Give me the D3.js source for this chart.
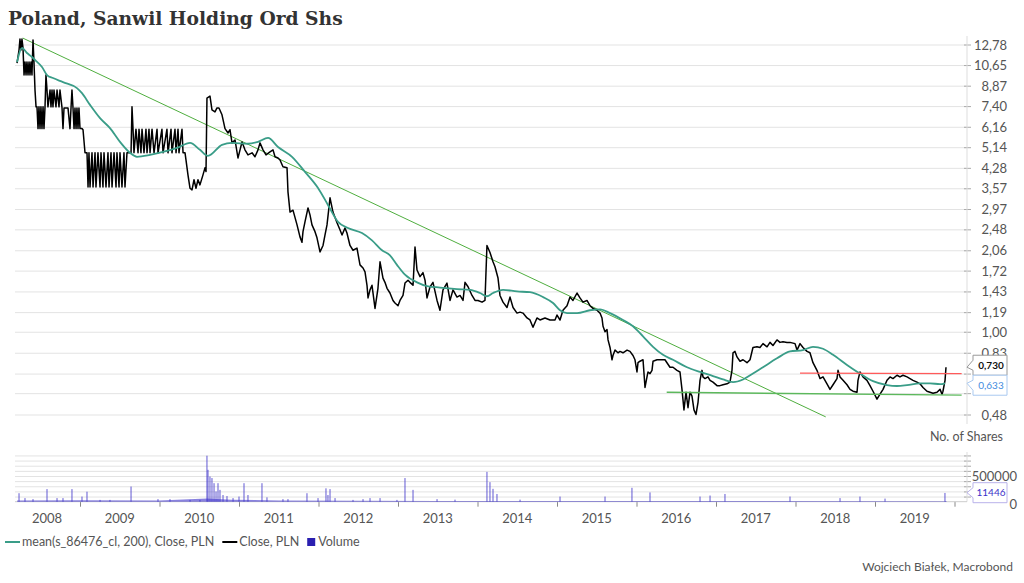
<!DOCTYPE html>
<html>
<head>
<meta charset="utf-8">
<script src="https://cdn.jsdelivr.net/npm/d3@7"></script>
<style>
  body { margin: 0; background: #fff; }
  text { font-family: Lato, "Open Sans", sans-serif; }
</style>
</head>
<body>
<script>
// ---- data ----
var years = [2008, 2009, 2010, 2011, 2012, 2013, 2014, 2015, 2016, 2017, 2018, 2019];
var priceTicks = [0.48, 0.58, 0.69, 0.83, 1.00, 1.19, 1.43, 1.72, 2.06, 2.48, 2.97, 3.57, 4.28, 5.14, 6.16, 7.40, 8.87, 10.65, 12.78];
var volumeGrid = [100000, 200000, 300000, 400000, 500000, 600000, 700000, 800000, 900000];
var volumeLabels = [0, 500000];

// [decimal year, close PLN]
var closeSeries = [
  [2008.208,10.84],[2008.233,12.17],[2008.245,13.42],[2008.258,12.17],[2008.270,13.42],[2008.283,12.40],
  [2008.296,9.75],[2008.308,10.95],[2008.321,9.75],[2008.333,10.95],[2008.346,9.75],[2008.359,10.95],
  [2008.371,9.75],[2008.384,10.95],[2008.396,9.75],[2008.409,13.30],[2008.421,10.95],[2008.434,8.53],
  [2008.447,7.35],[2008.459,7.35],[2008.472,6.06],[2008.484,7.35],[2008.497,6.06],[2008.509,7.35],
  [2008.522,6.06],[2008.535,7.35],[2008.547,6.06],[2008.560,7.35],[2008.572,9.75],[2008.585,8.53],
  [2008.597,7.35],[2008.623,8.53],[2008.635,7.35],[2008.648,8.53],[2008.660,7.35],[2008.673,8.53],
  [2008.698,7.35],[2008.711,8.53],[2008.736,7.35],[2008.748,8.53],[2008.774,7.28],[2008.786,6.06],
  [2008.799,7.28],[2008.824,7.28],[2008.849,7.28],[2008.874,6.06],[2008.887,7.28],[2008.899,8.53],
  [2008.912,7.28],[2008.925,6.06],[2008.937,7.28],[2008.950,6.06],[2008.962,7.28],[2008.975,6.06],
  [2008.987,7.28],[2009.000,6.06],[2009.025,6.06],[2009.038,6.00],[2009.063,4.89],[2009.088,4.89],
  [2009.101,3.61],[2009.113,4.89],[2009.126,3.61],[2009.151,4.89],[2009.164,3.61],[2009.189,4.89],
  [2009.201,3.61],[2009.226,4.89],[2009.252,3.61],[2009.264,4.89],[2009.289,3.61],[2009.302,4.89],
  [2009.327,3.61],[2009.352,4.89],[2009.365,3.61],[2009.390,4.89],[2009.403,3.61],[2009.428,4.89],
  [2009.453,3.61],[2009.465,4.89],[2009.491,3.61],[2009.503,4.89],[2009.528,3.61],[2009.553,4.89],
  [2009.566,3.61],[2009.591,4.89],[2009.604,4.89],[2009.642,4.89],[2009.654,7.35],[2009.667,6.03],
  [2009.679,4.89],[2009.704,6.03],[2009.730,4.89],[2009.742,6.03],[2009.767,4.89],[2009.780,6.03],
  [2009.805,4.89],[2009.830,6.03],[2009.843,4.89],[2009.868,6.03],[2009.881,4.89],[2009.906,6.03],
  [2009.931,4.89],[2009.969,6.03],[2009.981,4.89],[2010.031,6.03],[2010.044,4.89],[2010.094,6.03],
  [2010.107,4.89],[2010.145,6.03],[2010.157,4.89],[2010.195,6.03],[2010.208,4.89],[2010.233,6.03],
  [2010.245,4.89],[2010.283,6.03],[2010.296,4.89],[2010.321,4.89],[2010.333,4.59],[2010.358,4.02],
  [2010.384,3.57],[2010.409,3.52],[2010.434,3.85],[2010.459,3.57],[2010.484,3.85],[2010.509,3.68],
  [2010.547,4.02],[2010.572,4.28],[2010.585,4.14],[2010.597,7.95],[2010.635,8.09],[2010.660,7.16],
  [2010.698,7.03],[2010.723,7.28],[2010.748,7.28],[2010.786,6.85],[2010.824,6.06],[2010.862,5.83],
  [2010.887,6.00],[2010.912,5.34],[2010.950,5.48],[2010.987,4.67],[2011.013,5.02],[2011.038,5.38],
  [2011.075,5.02],[2011.113,4.80],[2011.164,4.89],[2011.201,4.72],[2011.239,5.02],[2011.264,5.34],
  [2011.302,5.02],[2011.340,4.80],[2011.390,4.93],[2011.428,5.02],[2011.453,4.72],[2011.491,4.67],
  [2011.516,4.59],[2011.553,4.32],[2011.604,4.28],[2011.616,3.46],[2011.642,2.89],[2011.679,2.94],
  [2011.730,2.58],[2011.767,2.32],[2011.792,2.21],[2011.805,2.43],[2011.830,2.65],[2011.868,3.00],
  [2011.893,2.82],[2011.918,2.58],[2011.956,2.43],[2011.981,2.30],[2012.019,2.03],[2012.057,2.15],
  [2012.082,2.36],[2012.107,2.58],[2012.145,3.28],[2012.182,2.89],[2012.233,2.63],[2012.270,2.47],
  [2012.296,2.36],[2012.333,2.51],[2012.358,2.40],[2012.396,2.15],[2012.434,2.06],[2012.484,2.10],
  [2012.522,1.81],[2012.560,1.76],[2012.585,1.70],[2012.610,1.51],[2012.623,1.35],[2012.648,1.45],
  [2012.673,1.51],[2012.711,1.23],[2012.748,1.47],[2012.774,1.86],[2012.811,1.61],[2012.836,1.55],
  [2012.862,1.47],[2012.899,1.41],[2012.937,1.32],[2012.962,1.29],[2013.000,1.26],[2013.025,1.32],
  [2013.063,1.38],[2013.088,1.54],[2013.126,1.58],[2013.151,1.55],[2013.189,1.51],[2013.214,2.12],
  [2013.239,1.73],[2013.277,1.63],[2013.314,1.69],[2013.340,1.58],[2013.365,1.35],[2013.403,1.49],
  [2013.440,1.55],[2013.491,1.32],[2013.528,1.21],[2013.566,1.45],[2013.616,1.54],[2013.654,1.32],
  [2013.692,1.45],[2013.742,1.36],[2013.780,1.38],[2013.818,1.32],[2013.843,1.55],[2013.881,1.49],
  [2013.931,1.38],[2013.969,1.32],[2014.006,1.32],[2014.057,1.30],[2014.094,1.32],[2014.119,2.15],
  [2014.157,2.02],[2014.195,1.86],[2014.220,1.78],[2014.258,1.61],[2014.283,1.38],[2014.321,1.30],
  [2014.371,1.24],[2014.409,1.36],[2014.447,1.24],[2014.497,1.18],[2014.535,1.19],[2014.572,1.18],
  [2014.623,1.13],[2014.660,1.11],[2014.698,1.04],[2014.748,1.13],[2014.786,1.11],[2014.849,1.13],
  [2014.912,1.11],[2014.975,1.11],[2015.000,1.16],[2015.038,1.11],[2015.075,1.21],[2015.126,1.26],
  [2015.164,1.36],[2015.201,1.32],[2015.252,1.41],[2015.289,1.35],[2015.327,1.30],[2015.377,1.32],
  [2015.415,1.26],[2015.453,1.23],[2015.503,1.21],[2015.541,1.18],[2015.566,1.13],[2015.579,1.05],
  [2015.604,1.00],[2015.629,1.02],[2015.642,0.93],[2015.667,0.87],[2015.692,0.78],[2015.704,0.81],
  [2015.730,0.85],[2015.767,0.83],[2015.792,0.84],[2015.830,0.83],[2015.881,0.85],[2015.918,0.84],
  [2015.956,0.81],[2015.981,0.78],[2016.006,0.70],[2016.019,0.76],[2016.044,0.77],[2016.082,0.78],
  [2016.107,0.61],[2016.132,0.67],[2016.145,0.70],[2016.170,0.69],[2016.195,0.71],[2016.208,0.77],
  [2016.258,0.78],[2016.296,0.78],[2016.358,0.78],[2016.421,0.73],[2016.459,0.73],[2016.509,0.71],
  [2016.547,0.70],[2016.572,0.60],[2016.597,0.50],[2016.623,0.585],[2016.648,0.51],[2016.673,0.585],
  [2016.698,0.565],[2016.723,0.50],[2016.748,0.48],[2016.774,0.535],[2016.799,0.65],[2016.824,0.71],
  [2016.836,0.67],[2016.862,0.66],[2016.899,0.67],[2016.925,0.65],[2016.962,0.64],[2017.013,0.62],
  [2017.050,0.62],[2017.088,0.625],[2017.138,0.63],[2017.176,0.64],[2017.201,0.71],[2017.214,0.83],
  [2017.239,0.84],[2017.264,0.80],[2017.302,0.77],[2017.340,0.78],[2017.390,0.76],[2017.428,0.78],
  [2017.465,0.87],[2017.516,0.875],[2017.553,0.87],[2017.591,0.90],[2017.642,0.875],[2017.679,0.91],
  [2017.717,0.885],[2017.767,0.93],[2017.805,0.91],[2017.843,0.915],[2017.893,0.91],[2017.931,0.91],
  [2017.994,0.90],[2018.019,0.85],[2018.057,0.90],[2018.094,0.87],[2018.145,0.84],[2018.182,0.83],
  [2018.220,0.76],[2018.270,0.71],[2018.308,0.66],[2018.346,0.67],[2018.396,0.63],[2018.434,0.60],
  [2018.472,0.625],[2018.522,0.66],[2018.535,0.71],[2018.560,0.67],[2018.598,0.65],[2018.648,0.625],
  [2018.686,0.60],[2018.723,0.59],[2018.774,0.585],[2018.786,0.65],[2018.811,0.70],[2018.849,0.67],
  [2018.899,0.65],[2018.937,0.62],[2018.975,0.59],[2019.025,0.55],[2019.063,0.575],[2019.101,0.60],
  [2019.151,0.65],[2019.189,0.67],[2019.226,0.66],[2019.277,0.68],[2019.314,0.67],[2019.352,0.68],
  [2019.403,0.67],[2019.440,0.66],[2019.478,0.65],[2019.528,0.64],[2019.566,0.63],[2019.604,0.61],
  [2019.654,0.59],[2019.692,0.585],[2019.730,0.58],[2019.780,0.585],[2019.818,0.60],[2019.843,0.575],
  [2019.855,0.59],[2019.881,0.65],[2019.893,0.73]
];

// [decimal year, 200-day mean]
var maSeries = [
  [2008.208,10.95],[2008.270,12.39],[2008.333,11.85],[2008.396,11.44],[2008.434,11.14],[2008.522,10.47],
  [2008.585,9.75],[2008.660,9.49],[2008.786,9.16],[2008.962,8.68],[2009.025,8.30],[2009.126,7.48],
  [2009.252,6.65],[2009.377,6.09],[2009.503,5.39],[2009.629,4.89],[2009.717,4.72],[2009.881,4.80],
  [2010.044,4.93],[2010.220,5.11],[2010.384,5.34],[2010.509,5.02],[2010.610,4.76],[2010.786,5.25],
  [2010.912,5.34],[2011.113,5.30],[2011.239,5.39],[2011.365,5.58],[2011.491,5.15],[2011.667,4.72],
  [2011.830,4.13],[2011.994,3.58],[2012.119,3.08],[2012.245,2.65],[2012.371,2.51],[2012.547,2.40],
  [2012.673,2.25],[2012.799,2.06],[2012.899,1.97],[2012.987,1.81],[2013.088,1.66],[2013.239,1.55],
  [2013.365,1.50],[2013.528,1.48],[2013.742,1.46],[2013.906,1.45],[2014.032,1.41],[2014.119,1.37],
  [2014.195,1.41],[2014.321,1.45],[2014.497,1.43],[2014.660,1.42],[2014.824,1.36],[2014.950,1.29],
  [2015.038,1.21],[2015.126,1.18],[2015.252,1.18],[2015.415,1.21],[2015.541,1.22],[2015.667,1.18],
  [2015.830,1.11],[2015.956,1.05],[2016.082,0.96],[2016.208,0.875],[2016.333,0.815],[2016.459,0.78],
  [2016.635,0.73],[2016.799,0.70],[2016.962,0.675],[2017.088,0.655],[2017.214,0.64],[2017.340,0.655],
  [2017.465,0.69],[2017.591,0.73],[2017.767,0.79],[2017.931,0.84],[2018.094,0.85],[2018.220,0.875],
  [2018.346,0.86],[2018.472,0.815],[2018.648,0.745],[2018.811,0.69],[2018.975,0.645],[2019.151,0.623],
  [2019.277,0.618],[2019.403,0.623],[2019.566,0.633],[2019.692,0.633],[2019.818,0.628],[2019.881,0.633]
];

// [decimal year, shares traded] - visible spikes
var volumeSpikes = [
  [2008.233,165000],[2008.308,70000],[2008.409,50000],[2008.585,245000],[2008.711,70000],[2008.786,70000],
  [2008.899,245000],[2009.025,100000],[2009.088,195000],[2009.252,35000],[2009.377,35000],[2009.642,295000],
  [2009.981,50000],[2010.132,50000],[2010.384,35000],[2010.509,35000],[2010.597,895000],[2010.610,620000],
  [2010.635,490000],[2010.660,460000],[2010.686,360000],[2010.711,200000],[2010.736,360000],[2010.761,230000],
  [2010.799,130000],[2010.849,110000],[2010.925,70000],[2011.000,100000],[2011.063,360000],[2011.113,130000],
  [2011.289,360000],[2011.352,85000],[2011.553,50000],[2011.616,50000],[2011.855,165000],[2011.994,70000],
  [2012.094,260000],[2012.119,130000],[2012.145,245000],[2012.208,70000],[2012.434,35000],[2012.560,50000],
  [2012.648,70000],[2012.774,70000],[2012.987,35000],[2013.088,460000],[2013.189,230000],[2013.491,50000],
  [2013.717,40000],[2014.119,580000],[2014.157,380000],[2014.195,250000],[2014.245,150000],[2014.535,40000],
  [2015.038,100000],[2015.604,100000],[2015.943,270000],[2016.170,180000],[2016.799,100000],[2016.925,120000],
  [2017.113,150000],[2017.931,100000],[2018.560,70000],[2018.811,100000],[2019.126,60000],[2019.880,170000],
  [2019.893,11446]
];
// typical daily turnover (thin band along the base)
var volumeFloor = [
  [2008.208,25000],[2009.000,30000],[2010.000,25000],[2010.597,60000],[2010.900,40000],[2011.500,25000],
  [2012.500,20000],[2013.500,15000],[2015.000,12000],[2017.000,12000],[2019.893,10000]
];

var trendDown = [[2008.28, 13.53], [2018.38, 0.47]];
var supportLine = [[2016.38, 0.585], [2020.09, 0.57]];
var resistLine = [[2018.057, 0.693], [2020.09, 0.69]];

var lastClose = 0.730, lastMean = 0.633, lastVolume = 11446;

// ---- layout ----
var width = 1024, height = 583;
var plotLeft = 15, plotRight = 967;

var svg = d3.select("body").append("svg")
  .attr("width", width)
  .attr("height", height);

var x = d3.scaleLinear().domain([2008, 2020]).range([0.5, 954.5]);
var y = d3.scaleLog().domain([0.48, 12.78]).range([414.5, 44.5]);
var yv = d3.scaleLinear().domain([0, 500000]).range([501.7, 476]);

var comma = function(f) { return function(v) { return f(v).replace('.', ','); }; };
var fmt2 = comma(d3.format('.2f'));
var fmt3 = comma(d3.format('.3f'));

// title
var title = svg.append('text')
  .attr('x', 8)
  .attr('y', 25)
  .style('font-family', '"DejaVu Serif", serif')
  .style('font-weight', 'bold')
  .style('font-size', '18px')
  .style('fill', '#333')
  .text('Poland, Sanwil Holding Ord Shs');
var tw = title.node().getComputedTextLength();
title.style('font-size', (18 * 335 / tw) + 'px');

// value callout boxes (computed first so tick labels fully under them can be skipped)
var c1 = y(lastClose) - 2;
var c2 = Math.max(y(lastMean), c1 + 20);
var hidden = function(v) { var p = y(v); return Math.abs(p - c1) < 9 || Math.abs(p - c2) < 9; };

// price grid + axis
var priceAxis = d3.axisRight(y)
  .tickValues(priceTicks)
  .tickSize(-(plotRight - plotLeft))
  .tickFormat(d => hidden(d) ? '' : fmt2(d));

var pg = svg.append('g')
  .attr('class', 'axis priceAxis')
  .attr('transform', `translate(${plotRight}, 0)`)
  .call(priceAxis);
pg.select('.domain').remove();
pg.selectAll('.tick line').attr('stroke', '#e3e3e3');
pg.selectAll('.tick').append('line')
  .attr('x1', -3).attr('x2', 4)
  .attr('stroke', '#aaa');
pg.selectAll('.tick text')
  .attr('x', 40)
  .attr('dy', '0.35em')
  .style('text-anchor', 'end')
  .style('font-size', '13px')
  .style('fill', '#555');

svg.append('line')
  .attr('x1', plotRight).attr('x2', plotRight)
  .attr('y1', 36).attr('y2', 424)
  .attr('stroke', '#ddd');

// volume grid + axis
var vg = svg.append('g')
  .attr('class', 'axis volAxis')
  .attr('transform', `translate(${plotRight}, 0)`)
  .call(d3.axisRight(yv).tickValues(volumeGrid).tickSize(-(plotRight - plotLeft)).tickFormat(''));
vg.select('.domain').remove();
vg.selectAll('.tick line').attr('stroke', '#e3e3e3');
vg.selectAll('.tick').append('line')
  .attr('x1', -3).attr('x2', 4)
  .attr('stroke', '#aaa');

svg.selectAll('text.volLabel')
  .data(volumeLabels)
  .enter()
  .append('text')
  .attr('class', 'volLabel')
  .attr('x', 1017)
  .attr('y', d => yv(d) + (d == 0 ? 3 : 0))
  .attr('dy', '0.35em')
  .style('text-anchor', 'end')
  .style('font-size', '13px')
  .style('fill', '#555')
  .text(d => d);

svg.append('line')
  .attr('x1', plotRight).attr('x2', plotRight)
  .attr('y1', 452).attr('y2', yv(0))
  .attr('stroke', '#ddd');

// x axis
var xAxis = d3.axisBottom(x)
  .tickValues(years.slice(1).concat([2020]))
  .tickSize(5)
  .tickFormat('');
var xg = svg.append('g')
  .attr('transform', `translate(0, ${yv(0)})`)
  .call(xAxis);
xg.select('.domain').remove();
xg.selectAll('.tick line').attr('stroke', '#888');
svg.append('line')
  .attr('x1', plotLeft).attr('x2', plotRight)
  .attr('y1', yv(0)).attr('y2', yv(0))
  .attr('stroke', '#ccc');

svg.selectAll('text.year')
  .data(years)
  .enter()
  .append('text')
  .attr('class', 'year')
  .attr('x', d => Math.max(x(d + 0.5), 47))
  .attr('y', 523)
  .style('text-anchor', 'middle')
  .style('font-size', '13px')
  .style('fill', '#555')
  .text(d => d);

svg.append('text')
  .attr('x', 1003)
  .attr('y', 441)
  .style('text-anchor', 'end')
  .style('font-size', '12.5px')
  .style('fill', '#555')
  .text('No. of Shares');

// volume marks
svg.append('path')
  .datum(volumeFloor)
  .attr('d', d3.area().x(d => x(d[0])).y0(yv(0)).y1(d => yv(d[1])))
  .attr('fill', '#3b2fc9')
  .attr('opacity', 0.6);

svg.selectAll('line.vol')
  .data(volumeSpikes)
  .enter()
  .append('line')
  .attr('class', 'vol')
  .attr('x1', d => x(d[0])).attr('x2', d => x(d[0]))
  .attr('y1', yv(0)).attr('y2', d => yv(d[1]))
  .attr('stroke', '#3b2fc9')
  .attr('stroke-opacity', 0.8)
  .attr('stroke-width', 1);

// price marks
var line = d3.line().x(d => x(d[0])).y(d => y(d[1]));

svg.append('path')
  .datum(trendDown)
  .attr('d', line)
  .attr('fill', 'none')
  .attr('stroke', '#4fae3f')
  .attr('stroke-width', 1);

svg.append('path')
  .datum(closeSeries)
  .attr('d', line)
  .attr('fill', 'none')
  .attr('stroke', '#000')
  .attr('stroke-width', 1.5)
  .attr('stroke-linejoin', 'round');

svg.append('path')
  .datum(maSeries)
  .attr('d', d3.line().x(d => x(d[0])).y(d => y(d[1])).curve(d3.curveMonotoneX))
  .attr('fill', 'none')
  .attr('stroke', '#3a9d88')
  .attr('stroke-width', 1.8);

svg.append('path')
  .datum(supportLine)
  .attr('d', line)
  .attr('fill', 'none')
  .attr('stroke', '#5cb85c')
  .attr('stroke-width', 1.5);

svg.append('path')
  .datum(resistLine)
  .attr('d', line)
  .attr('fill', 'none')
  .attr('stroke', '#ff5a5a')
  .attr('stroke-width', 1.3);

// value callouts on the right
function callout(cy, tipY, txt, stroke, color, weight) {
  var g = svg.append('g');
  var l = 973, r = 1007, h = 10;
  var p = `M${plotRight},${tipY} L${l},${cy - 5} L${l},${cy - h} L${r},${cy - h} L${r},${cy + h} L${l},${cy + h} L${l},${cy + 5} Z`;
  g.append('path')
    .attr('d', p)
    .attr('fill', '#fff')
    .attr('stroke', stroke);
  g.append('text')
    .attr('x', (l + r) / 2 + 1)
    .attr('y', cy)
    .attr('dy', '0.35em')
    .style('text-anchor', 'middle')
    .style('font-size', '10px')
    .style('font-weight', weight)
    .style('fill', color)
    .text(txt);
}

callout(c1, y(lastClose), fmt3(lastClose), '#999', '#111', 'bold');
callout(c2, y(lastMean), fmt3(lastMean), '#a9c9f0', '#3f8be0', 'normal');

var vTip = Math.min(yv(lastVolume), yv(0) - 9);
callout(vTip, vTip, String(lastVolume), '#b9b2ea', '#3b2fc9', 'normal');

// legend
var legend = svg.append('g').attr('transform', 'translate(0, 542)');
var items = [
  { name: 'mean(s_86476_cl, 200), Close, PLN', color: '#3a9d88', type: 'line' },
  { name: 'Close, PLN', color: '#000', type: 'line' },
  { name: 'Volume', color: '#2a1fb0', type: 'rect' }
];
var lx = 5;
items.forEach(function(it) {
  if (it.type == 'line') {
    legend.append('line')
      .attr('x1', lx).attr('x2', lx + 15)
      .attr('stroke', it.color)
      .attr('stroke-width', 2);
    lx += 17;
  } else {
    legend.append('rect')
      .attr('x', lx).attr('y', -4)
      .attr('width', 8).attr('height', 8)
      .attr('fill', it.color);
    lx += 11;
  }
  var t = legend.append('text')
    .attr('x', lx)
    .attr('dy', '0.35em')
    .style('font-size', '12.5px')
    .style('fill', '#555')
    .text(it.name);
  lx += t.node().getComputedTextLength() + 8;
});

svg.append('text')
  .attr('x', 1013)
  .attr('y', 567)
  .attr('dy', '0.35em')
  .style('text-anchor', 'end')
  .style('font-size', '12px')
  .style('fill', '#555')
  .text('Wojciech Białek, Macrobond');
</script>
</body>
</html>
